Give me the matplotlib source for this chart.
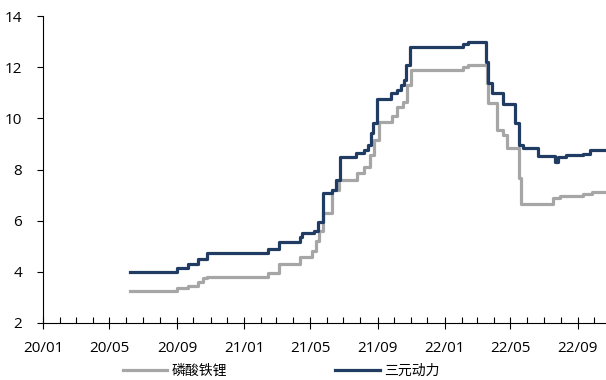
import matplotlib.pyplot as plt
import matplotlib.dates as mdates
import pandas as pd

plt.rcParams['font.family'] = ['Open Sans', 'Noto Sans CJK SC', 'DejaVu Sans']

# step change points (date, price)
lfp_dates = ["2020-06-07", "2020-09-01", "2020-09-21", "2020-10-09", "2020-10-18",
             "2020-10-25", "2021-02-13", "2021-03-06", "2021-04-12", "2021-05-05",
             "2021-05-12", "2021-05-18", "2021-05-24", "2021-06-11", "2021-06-22",
             "2021-07-25", "2021-08-07", "2021-08-18", "2021-08-25", "2021-09-03",
             "2021-09-28", "2021-10-07", "2021-10-18", "2021-10-25", "2021-11-01",
             "2022-02-03", "2022-02-12", "2022-03-19", "2022-03-22", "2022-03-28",
             "2022-04-07", "2022-04-17", "2022-04-24", "2022-05-10", "2022-05-16",
             "2022-05-21", "2022-07-18", "2022-07-30", "2022-08-20", "2022-09-10",
             "2022-09-27", "2022-10-22"]
lfp_values = [3.25, 3.37, 3.45, 3.6, 3.76,
              3.8, 3.95, 4.3, 4.58, 4.8,
              5.2, 5.6, 6.3, 7.2, 7.6,
              7.87, 8.1, 8.57, 9.15, 9.86,
              10.1, 10.44, 10.64, 11.3, 11.9,
              12.0, 12.1, 11.38, 10.6, 10.6,
              9.55, 9.35, 8.85, 8.85, 7.67,
              6.65, 6.9, 6.95, 6.98, 7.05,
              7.12, 7.12]

ncm_dates = ["2020-06-07", "2020-09-01", "2020-09-21", "2020-10-09", "2020-10-25",
             "2021-02-13", "2021-03-06", "2021-04-12", "2021-04-17", "2021-05-09",
             "2021-05-15", "2021-05-24", "2021-06-11", "2021-06-17", "2021-06-24",
             "2021-07-23", "2021-08-07", "2021-08-14", "2021-08-20", "2021-08-24",
             "2021-08-31", "2021-09-26", "2021-10-07", "2021-10-14", "2021-10-19",
             "2021-10-23", "2021-10-31", "2022-02-03", "2022-02-12", "2022-03-17",
             "2022-03-21", "2022-03-28", "2022-04-17", "2022-05-10", "2022-05-16",
             "2022-05-23", "2022-05-31", "2022-06-20", "2022-07-22", "2022-07-26",
             "2022-08-10", "2022-08-25", "2022-09-10", "2022-09-23", "2022-10-22"]
ncm_values = [4.0, 4.15, 4.3, 4.5, 4.72,
              4.9, 5.17, 5.36, 5.5, 5.6,
              5.95, 7.1, 7.2, 7.6, 8.5,
              8.65, 8.76, 8.96, 9.43, 9.82,
              10.75, 11.0, 11.1, 11.3, 11.5,
              12.1, 12.8, 12.9, 13.0, 12.2,
              11.4, 11.0, 10.56, 9.8, 8.96,
              8.85, 8.85, 8.53, 8.3, 8.5,
              8.55, 8.58, 8.6, 8.75, 8.75]

labels = ["磷酸铁锂", "三元动力"]
colors = ["#A6A6A6", "#203C63"]

fig = plt.figure(figsize=(6.06, 3.80), dpi=100)
ax = fig.add_axes([43 / 606, 57 / 380, 563 / 606, 307 / 380])

ax.plot(pd.to_datetime(lfp_dates), lfp_values, drawstyle='steps-post',
        color=colors[0], lw=2.3, label=labels[0], solid_joinstyle='round')
ax.plot(pd.to_datetime(ncm_dates), ncm_values, drawstyle='steps-post',
        color=colors[1], lw=2.3, label=labels[1], solid_joinstyle='round')

ax.set_xlim(pd.Timestamp("2020-01-01"), pd.Timestamp("2022-10-22"))
ax.set_ylim(2, 14)
ax.set_yticks(range(2, 15, 2))

ax.xaxis.set_major_locator(mdates.MonthLocator(bymonth=[1, 5, 9]))
ax.xaxis.set_major_formatter(mdates.DateFormatter('%y/%m'))
ax.xaxis.set_minor_locator(mdates.MonthLocator())

for s in ['top', 'right']:
    ax.spines[s].set_visible(False)
for s in ['left', 'bottom']:
    ax.spines[s].set_color('black')
    ax.spines[s].set_linewidth(0.8)

ax.tick_params(axis='y', direction='out', length=4, width=0.8, labelsize=11, pad=11)
ax.tick_params(axis='x', which='major', direction='inout', length=8, width=0.8,
               labelsize=11, pad=9)
ax.tick_params(axis='x', which='minor', direction='in', length=4, width=0.8)

fig.legend(loc='center', bbox_to_anchor=(281 / 606, 1 - 371 / 380), ncol=2,
           frameon=False, fontsize=10, handlelength=3.2, columnspacing=7.8,
           handletextpad=0.3, borderpad=0)

fig.savefig("out.png", dpi=100)
